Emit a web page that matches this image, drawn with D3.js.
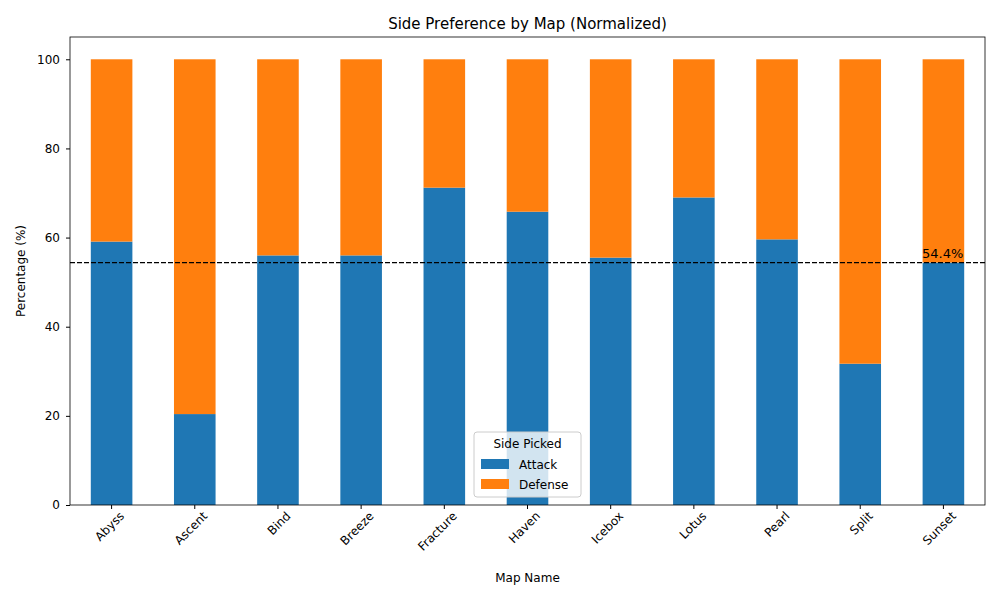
<!DOCTYPE html>
<html><head><meta charset="utf-8">
<script src="https://cdn.jsdelivr.net/npm/d3@7"></script>
<style>body{margin:0;background:#fff}svg{font-family:"DejaVu Sans",sans-serif}</style>
</head><body><svg id="c" width="1000" height="600"></svg>
<script>
const maps=["Abyss","Ascent","Bind","Breeze","Fracture","Haven","Icebox","Lotus","Pearl","Split","Sunset"];
const attack=[59.1,20.4,56.0,56.0,71.2,65.8,55.5,69.0,59.6,31.7,54.4];
const defense=attack.map(a=>100-a);
const refLine=54.4;
const yTicks=[0,20,40,60,80,100];
const colors={Attack:"#1f77b4",Defense:"#ff7f0e"};

const svg=d3.select("#c");
const L=70,R=985,T=37,B=505;
const x=d3.scaleBand().domain(maps).range([L,R]).padding(0);
const y=d3.scaleLinear().domain([0,105]).range([B,T]);
const bw=x.bandwidth()*0.5;
const g=svg.append("g");
maps.forEach((m,i)=>{
  const cx=x(m)+x.bandwidth()/2;
  g.append("rect").attr("x",cx-bw/2).attr("width",bw).attr("y",y(attack[i])).attr("height",y(0)-y(attack[i])).attr("fill",colors.Attack);
  g.append("rect").attr("x",cx-bw/2).attr("width",bw).attr("y",y(100)).attr("height",y(attack[i])-y(100)).attr("fill",colors.Defense);
});
svg.append("line").attr("x1",L).attr("x2",R).attr("y1",y(refLine)).attr("y2",y(refLine)).attr("stroke","#000").attr("stroke-width",1.2).attr("stroke-dasharray","5,2");
svg.append("text").attr("x",922).attr("y",y(refLine)-5).attr("font-size",13).text(refLine+"%");
svg.append("rect").attr("x",L).attr("y",T).attr("width",R-L).attr("height",B-T).attr("fill","none").attr("stroke","#000").attr("stroke-width",0.8);
const ya=svg.append("g").attr("transform",`translate(${L},0)`).call(d3.axisLeft(y).tickValues(yTicks).tickSize(4).tickPadding(6));
ya.select(".domain").remove();
ya.selectAll("text").attr("font-size",12).attr("font-family","DejaVu Sans");
const xa=svg.append("g").attr("transform",`translate(0,${B})`).call(d3.axisBottom(x).tickSize(4));
xa.select(".domain").remove();
xa.selectAll("text").attr("font-size",12).attr("font-family","DejaVu Sans").attr("text-anchor","end").attr("transform","rotate(-45)").attr("dx","0.1em").attr("dy","0.9em");
svg.append("text").attr("x",(L+R)/2).attr("y",29).attr("text-anchor","middle").attr("font-size",15).text("Side Preference by Map (Normalized)");
svg.append("text").attr("x",(L+R)/2).attr("y",582).attr("text-anchor","middle").attr("font-size",12).text("Map Name");
svg.append("text").attr("transform",`translate(25,${(T+B)/2}) rotate(-90)`).attr("text-anchor","middle").attr("font-size",12).text("Percentage (%)");
const lg=svg.append("g").attr("transform","translate(474,432)");
lg.append("rect").attr("width",107).attr("height",65).attr("rx",3).attr("fill","#fff").attr("fill-opacity",0.8).attr("stroke","#ccc");
lg.append("text").attr("x",53.5).attr("y",16).attr("text-anchor","middle").attr("font-size",12).text("Side Picked");
["Attack","Defense"].forEach((k,i)=>{
  lg.append("rect").attr("x",7).attr("y",27+i*20).attr("width",28).attr("height",10).attr("fill",colors[k]);
  lg.append("text").attr("x",45).attr("y",37+i*20).attr("font-size",12).text(k);
});
</script></body></html>
